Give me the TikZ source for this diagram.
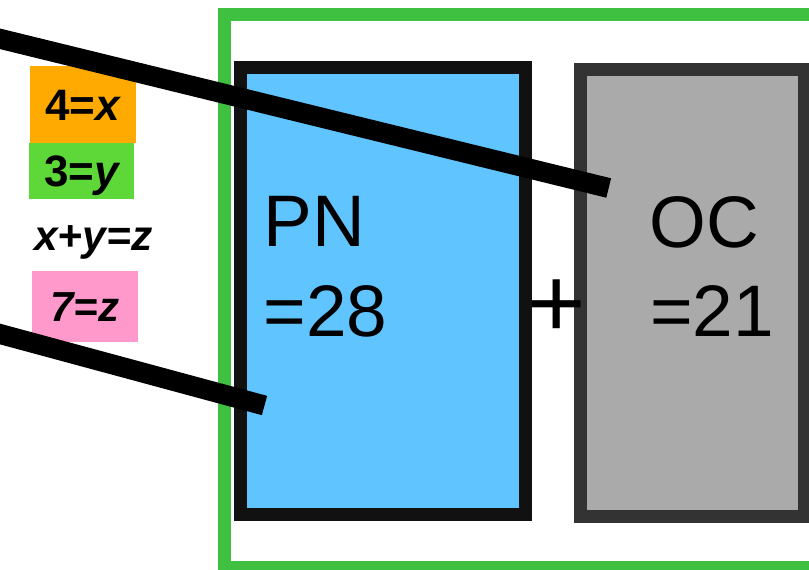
\documentclass[tikz,border=0pt]{standalone}
\usepackage{fontspec}
\setmainfont{Liberation Sans}

\definecolor{framegreen}{RGB}{64,192,64}
\definecolor{pnblue}{RGB}{96,196,255}
\definecolor{pnedge}{RGB}{17,17,17}
\definecolor{ocgray}{RGB}{170,170,170}
\definecolor{ocedge}{RGB}{51,51,51}
\definecolor{tagorange}{RGB}{255,170,0}
\definecolor{taggreen}{RGB}{94,216,56}
\definecolor{tagpink}{RGB}{255,153,204}

\tikzset{
  framebox/.style={draw=framegreen, line width=13pt, inner sep=0pt},
  partbox/.style={line width=13pt, inner sep=0pt},
  bigtext/.style={inner sep=0pt, anchor=base west, font=\fontsize{73}{88}\selectfont},
  plustext/.style={inner sep=0pt, anchor=base, font=\fontsize{100}{120}\selectfont},
  tagbox/.style={inner sep=0pt, text height=31.5pt, text depth=0pt,
    font=\fontsize{44}{52}\selectfont\bfseries},
  eqtext/.style={inner sep=0pt, anchor=base,
    font=\fontsize{42.5}{50}\selectfont\bfseries\itshape},
  bar/.style={line width=20pt, line cap=butt, black}
}

\begin{document}
\begin{tikzpicture}[x=1pt, y=-1pt]
\useasboundingbox (0,0) rectangle (809,570);

% outer frame, open on the right
\node[framebox, minimum width=616pt, minimum height=552.8pt] (frame) at (532,291.1) {};

% the two parts
\node[partbox, draw=pnedge, fill=pnblue, minimum width=285pt, minimum height=447.3pt] (pn) at (383,291.15) {};
\node[partbox, draw=ocedge, fill=ocgray, minimum width=224.5pt, minimum height=447.5pt] (oc) at (692.55,292.95) {};

\node[bigtext] (pnname) at (263.5,246.5) {PN};
\node[bigtext] (pnval) at (263.5,336.7) {=28};
\node[bigtext] (ocname) at (649.5,247) {OC};
\node[bigtext] (ocval) at (650,336.7) {=21};
\node[plustext] (plus) at (556.7,337.8) {+};

% variable tags
\node[tagbox, fill=taggreen, minimum width=105.3pt, minimum height=56pt] (ytag) at (81.65,170.7) {3=\itshape y};
\node[tagbox, fill=tagorange, minimum width=105.7pt, minimum height=76.7pt] (xtag) at (82.85,104.35) {4=\itshape x};
\node[eqtext] (sum) at (93.3,250) {x+y=z};
\node[tagbox, fill=tagpink, minimum width=106pt, minimum height=71pt, font=\fontsize{42}{50}\selectfont\bfseries\itshape] (ztag) at (84.7,306.2) {7=z};

% heavy bars entering from the left
\coordinate (bar1start) at (-10,36.35);
\coordinate (bar1end) at (608.7,188);
\coordinate (bar2start) at (-10,331.3);
\coordinate (bar2end) at (264.5,405.5);
\draw[bar] (bar1start) -- (bar1end);
\draw[bar] (bar2start) -- (bar2end);
\end{tikzpicture}
\end{document}
